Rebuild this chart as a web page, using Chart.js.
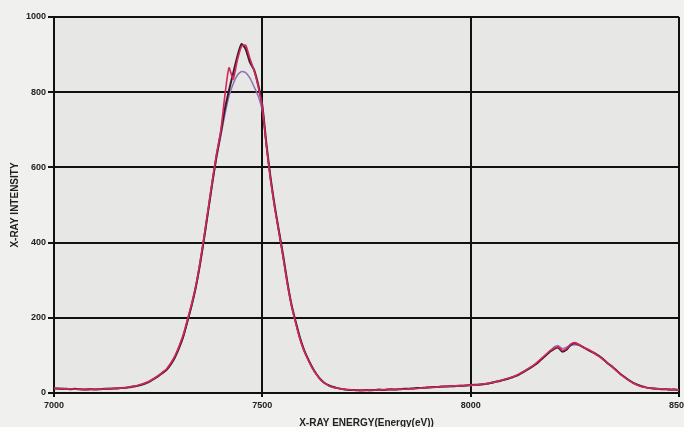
<!DOCTYPE html>
<html>
<head>
<meta charset="utf-8">
<script src="https://cdn.jsdelivr.net/npm/chart.js@4"></script>
<style>
html,body{margin:0;padding:0;overflow:hidden;background:#f0f0ee;}
#wrap{position:absolute;left:0;top:0;width:700px;height:432px;}
</style>
</head>
<body>
<div id="wrap"><canvas id="c" width="700" height="432"></canvas></div>
<script>
// X-ray energy (eV), 10 eV steps 7000..8500
const energies = [];
for (let e = 7000; e <= 8500; e += 10) energies.push(e);

const seriesDark = [
12,12,11,11,10,11,10,9,10,10,
9,10,11,11,12,12,13,14,15,17,
19,22,26,31,38,45,53,62,76,95,
120,150,190,232,280,340,410,485,560,630,
690,755,805,850,895,928,915,880,860,820,
765,660,570,495,430,365,295,235,190,148,
115,90,68,50,36,26,20,16,13,11,
9,8,8,7,7,8,7,8,9,8,
9,10,9,10,11,11,12,13,13,14,
15,16,16,17,17,18,18,19,19,20,
21,22,22,23,25,27,30,32,35,38,
42,46,52,58,65,72,80,90,100,110,
117,121,110,115,128,132,128,122,116,110,
104,97,88,78,70,60,50,42,34,27,
22,18,15,13,12,11,10,10,9,9,
8];

const seriesRed = [
13,12,12,11,11,10,10,10,9,10,
10,10,11,12,12,13,13,14,16,18,
20,23,27,32,39,46,55,64,79,98,
124,154,194,236,284,345,415,490,565,635,
695,790,865,835,885,922,925,890,858,815,
760,655,565,490,425,360,290,232,186,145,
112,88,66,49,35,26,19,15,13,11,
10,9,8,8,7,7,8,8,8,9,
9,9,10,10,10,11,12,12,13,14,
15,15,16,17,18,18,19,19,20,20,
21,21,23,24,25,28,29,33,36,39,
43,47,53,59,66,73,82,92,102,112,
119,123,113,118,130,134,129,121,117,111,
103,96,87,79,69,59,49,41,33,26,
21,17,15,13,12,11,11,10,9,9,
8];

const seriesPurple = [
11,11,11,10,10,10,10,9,9,10,
10,10,10,11,11,12,13,14,15,17,
19,22,25,30,37,44,52,61,75,93,
118,148,188,230,278,338,408,482,556,625,
682,740,790,822,845,855,852,838,815,790,
750,655,568,494,428,362,293,233,188,146,
114,89,67,50,36,26,20,16,13,11,
9,8,8,7,7,7,7,8,8,8,
9,9,9,10,10,11,11,12,13,13,
14,15,16,16,17,17,18,18,19,20,
20,21,22,23,24,27,29,32,35,38,
42,46,51,57,64,71,79,89,99,110,
122,126,118,122,126,128,127,122,115,109,
103,96,88,78,69,60,50,42,34,27,
22,18,15,13,12,11,10,10,9,9,
8];

const xTicks = [7000, 7500, 8000, 8500];
const yTicks = [0, 200, 400, 600, 800, 1000];

const toXY = arr => arr.map((v, i) => ({x: energies[i], y: v}));

const bgPlugin = {
  id: 'bg',
  beforeDraw(chart) {
    const {ctx, chartArea: a} = chart;
    ctx.save();
    ctx.fillStyle = '#f0f0ee';
    ctx.fillRect(0, 0, chart.width, chart.height);
    ctx.fillStyle = '#e7e7e5';
    ctx.fillRect(a.left, a.top, a.right - a.left, a.bottom - a.top);
    ctx.restore();
  }
};

const tickFont = {family: "'Liberation Sans Narrow','Liberation Sans',Arial,sans-serif", size: 9, weight: 'bold'};
const titleFont = {family: "'Liberation Sans','Arial',sans-serif", size: 10, weight: 'bold'};

new Chart(document.getElementById('c'), {
  type: 'line',
  data: {
    datasets: [
      {label: 'red', data: toXY(seriesRed), borderColor: '#d3265a', borderWidth: 1.6, pointRadius: 0, tension: 0.2},
      {label: 'dark', data: toXY(seriesDark), borderColor: '#3a1c2a', borderWidth: 2, pointRadius: 0, tension: 0.2},
      {label: 'purple', data: toXY(seriesPurple), borderColor: '#8e72b4', borderWidth: 1.5, pointRadius: 0, tension: 0.2}
    ]
  },
  options: {
    responsive: false,
    animation: false,
    devicePixelRatio: 1,
    layout: {padding: {left: 0, top: 17, right: 21, bottom: 0}},
    plugins: {legend: {display: false}, tooltip: {enabled: false}},
    scales: {
      x: {
        type: 'linear', min: 7000, max: 8500,
        afterBuildTicks: s => { s.ticks = xTicks.map(v => ({value: v})); },
        afterFit: s => { s.height = 39; s.paddingLeft = 0; s.paddingRight = 0; },
        ticks: {font: tickFont, color: '#222', padding: 3, maxRotation: 0, autoSkip: false, callback: v => String(v)},
        grid: {color: '#111', lineWidth: 2, tickLength: 4, drawOnChartArea: true},
        border: {color: '#111', width: 2},
        title: {display: true, text: 'X-RAY ENERGY(Energy(eV))', font: titleFont, color: '#222', padding: {top: 0, bottom: 3}}
      },
      y: {
        min: 0, max: 1000,
        afterBuildTicks: s => { s.ticks = yTicks.map(v => ({value: v})); },
        afterFit: s => { s.width = 54; s.paddingTop = 0; s.paddingBottom = 0; },
        ticks: {font: tickFont, color: '#222', padding: 2, callback: v => String(v)},
        grid: {color: '#111', lineWidth: 2, tickLength: 6},
        border: {color: '#111', width: 2},
        title: {display: true, text: 'X-RAY INTENSITY', font: titleFont, color: '#222', padding: {top: 9, bottom: 0}}
      }
    }
  },
  plugins: [bgPlugin]
});
</script>
</body>
</html>
